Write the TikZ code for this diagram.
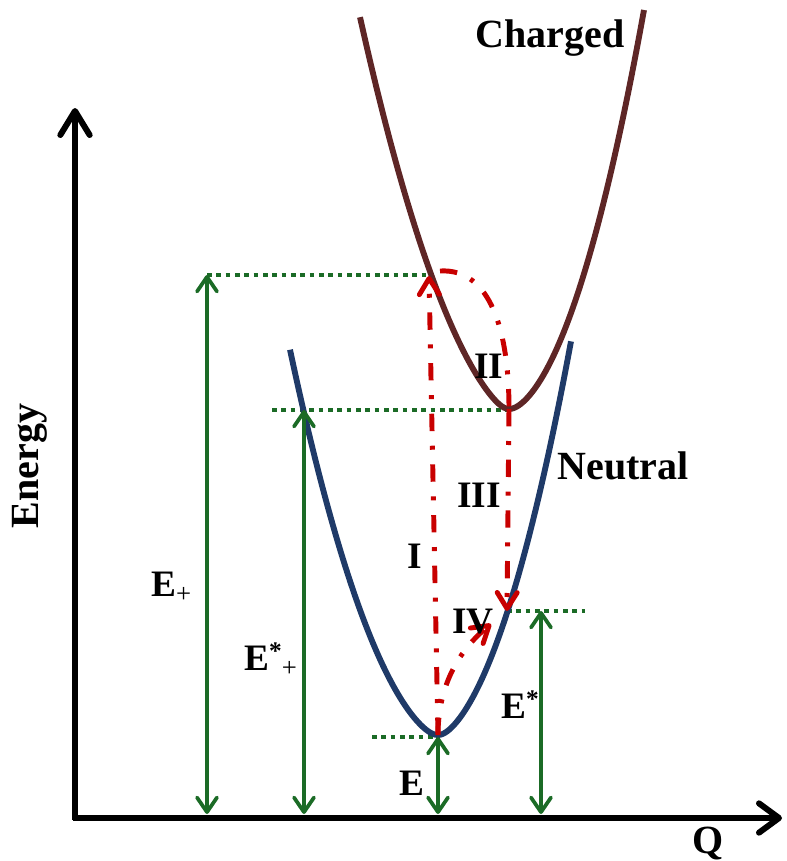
\documentclass[tikz,border=0pt]{standalone}
\usepackage{fontspec}
\setmainfont{Liberation Serif}
\usetikzlibrary{arrows.meta}
\definecolor{chg}{HTML}{5E2626}
\definecolor{neu}{HTML}{1F3A68}
\definecolor{grn}{HTML}{1B6B26}
\definecolor{rd}{HTML}{C80000}
\begin{document}
\begin{tikzpicture}[x=0.75pt,y=-0.75pt,
  axisline/.style={line width=4.5pt, line cap=butt, line join=round},
  yarrow/.style={axisline, -{Straight Barb[length=18pt,width=22pt,line cap=round,line join=round]}},
  xarrow/.style={axisline, -{Straight Barb[length=15pt,width=22pt,line cap=round,line join=round]}},
  curvechg/.style={draw=chg, line width=4.4pt, line cap=butt, line join=round},
  curveneu/.style={draw=neu, line width=4.4pt, line cap=butt, line join=round},
  gdots/.style={draw=grn, line width=3.6pt, dash pattern=on 3.6pt off 3.4pt},
  garrow/.style={draw=grn, line width=2.8pt, {Straight Barb[length=11pt,width=15pt,line cap=round,line join=round]}-{Straight Barb[length=11pt,width=15pt,line cap=round,line join=round]}},
  rdash/.style={draw=rd, line width=3.7pt, dash pattern=on 13pt off 11pt on 3pt off 11pt},
  rarrow/.style={rdash, -{Straight Barb[length=12pt,width=15pt,line cap=round,line join=round]}},
  big/.style={font=\fontsize{30}{36}\selectfont\bfseries, inner sep=0pt},
  lbl/.style={font=\fontsize{28}{34}\selectfont\bfseries, inner sep=0pt}
]
\useasboundingbox (0,0) rectangle (786,861);

% key points
\coordinate (Ytip) at (75,108);
\coordinate (Xtip) at (782,818);
\coordinate (Cmin) at (509,409);
\coordinate (Nmin) at (438,735);
\coordinate (Ctop) at (429,276);
\coordinate (Nstar) at (507,611);

% green dotted levels
\coordinate (d1a) at (207,275); \coordinate (d1b) at (429,275);
\coordinate (d2a) at (272,410); \coordinate (d2b) at (509,410);
\coordinate (d3a) at (507,611); \coordinate (d3b) at (585,611);
\coordinate (d4a) at (372,737); \coordinate (d4b) at (438,737);
\draw[gdots] (d1a) -- (d1b);
\draw[gdots] (d2a) -- (d2b);
\draw[gdots] (d3a) -- (d3b);
\draw[gdots] (d4a) -- (d4b);

% curves (v = horizontal distance from the minimum / 10)
\draw[curvechg] plot[domain=14.9:0, samples=60, variable=\v] ({509-10*\v},{409-(1.2*\v*\v+9*(sqrt(\v*\v+1)-1))})
  -- plot[domain=0:13.5, samples=60, variable=\v] ({509+10*\v},{409-(1.88*\v*\v+4.5*(sqrt(\v*\v+1)-1))});
\draw[curveneu] plot[domain=14.8:0, samples=60, variable=\v] ({438-10*\v},{735-(1.38*\v*\v+6*(sqrt(\v*\v+1)-1))})
  -- plot[domain=0:13.3, samples=60, variable=\v] ({438+10*\v},{735-(1.8*\v*\v+6.1*(sqrt(\v*\v+1)-1))});

% axes
\draw[yarrow] (75,820.2) -- (Ytip);
\draw[xarrow] (72.8,818) -- (Xtip);

% green double arrows
\coordinate (g1b) at (207,814);
\coordinate (g2t) at (304,410); \coordinate (g2b) at (304,814);
\coordinate (g3t) at (438,737); \coordinate (g3b) at (438,814);
\coordinate (g4t) at (541,611); \coordinate (g4b) at (541,814);
\draw[garrow] (g1b) -- (d1a);
\draw[garrow] (g2b) -- (g2t);
\draw[garrow] (g3b) -- (g3t);
\draw[garrow] (g4b) -- (g4t);

% red transitions
\draw[rarrow] (Nmin) -- (Ctop);
\draw[rdash] (440,271) .. controls (490,268) and (509,330) .. (Cmin);
\draw[rarrow] (Cmin) -- (Nstar);
\draw[rarrow] (Nmin) .. controls (438,688) and (457,652) .. (491,624);

% labels
\node[big, anchor=base] (charged) at (550,47) {Charged};
\node[big, anchor=base] (neutral) at (623,479) {Neutral};
\node[big, anchor=base, rotate=90] (energy) at (38,466) {Energy};
\node[big, anchor=base] (q) at (708,853) {Q};
\node[lbl, anchor=base west] (eplus) at (151,596) {E\raisebox{-5pt}{\fontsize{20}{20}\selectfont\mdseries +}};
\node[lbl, anchor=base west] (estarplus) at (244,670) {E\raisebox{8pt}{\fontsize{19}{19}\selectfont *}\raisebox{-5pt}{\fontsize{20}{20}\selectfont\mdseries +}};
\node[lbl, anchor=base west] (e) at (399,795) {E};
\node[lbl, anchor=base west] (estar) at (501,718) {E\raisebox{8pt}{\fontsize{19}{19}\selectfont *}};
\node[lbl, anchor=base] (ii) at (489,378) {II};
\node[lbl, anchor=base] (iii) at (479,507) {III};
\node[lbl, anchor=base] (i) at (415,568) {I};
\node[lbl, anchor=base] (iv) at (473,633) {IV};
\end{tikzpicture}
\end{document}
